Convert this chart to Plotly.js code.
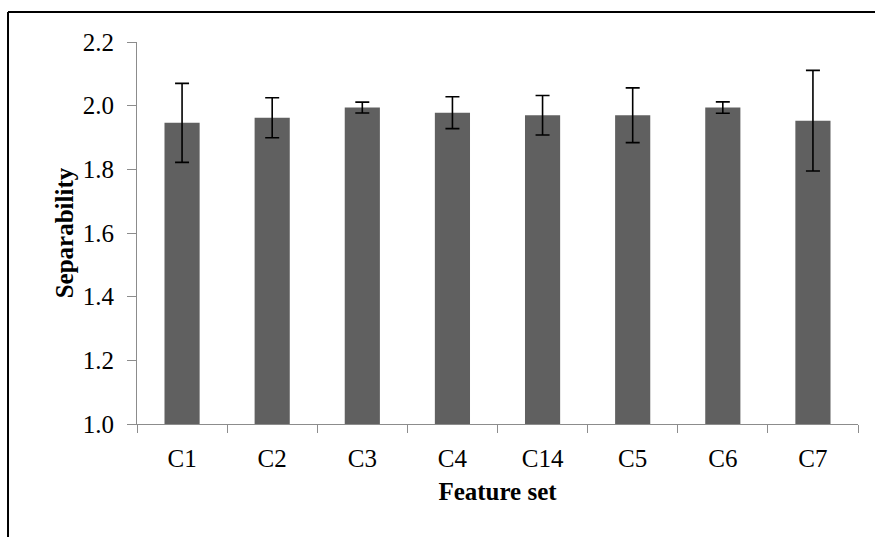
<!DOCTYPE html>
<html>
<head>
<meta charset="utf-8">
<script src="https://cdn.plot.ly/plotly-3.0.1.min.js"></script>
<style>
html,body{margin:0;padding:0;background:#fff;}
#chart{width:875px;height:537px;}
</style>
</head>
<body>
<div id="chart"></div>
<script>
const categories = ["C1", "C2", "C3", "C4", "C14", "C5", "C6", "C7"];
const separability = [1.946, 1.962, 1.994, 1.978, 1.970, 1.970, 1.994, 1.953];
const errors = [0.124, 0.063, 0.017, 0.050, 0.062, 0.086, 0.018, 0.158];

const serif = "Liberation Serif, Times New Roman, serif";

const trace = {
  type: "bar",
  x: categories,
  y: separability,
  width: 0.39,
  marker: {color: "#606060", line: {width: 0}},
  error_y: {type: "data", array: errors, visible: true, color: "#000", thickness: 1.6, width: 7},
  hoverinfo: "skip"
};

const layout = {
  width: 875, height: 537,
  margin: {l: 137, r: 17, t: 42, b: 112.5, pad: 0},
  paper_bgcolor: "#fff",
  plot_bgcolor: "#fff",
  showlegend: false,
  bargap: 0.61,
  font: {family: serif, color: "#000", size: 25},
  xaxis: {
    type: "category",
    showline: true, linecolor: "#8c8c8c", linewidth: 1,
    ticks: "outside", tickson: "boundaries", ticklen: 8, tickcolor: "#8c8c8c", tickwidth: 1,
    ticklabelstandoff: 12,
    showgrid: false, zeroline: false,
    tickfont: {family: serif, size: 25, color: "#000"},
    title: {text: "<b>Feature set</b>", font: {family: serif, size: 25, color: "#000"}, standoff: 11}
  },
  yaxis: {
    range: [1.0, 2.2], dtick: 0.2, tick0: 1.0, tickformat: ".1f",
    showline: true, linecolor: "#8c8c8c", linewidth: 1,
    ticks: "outside", ticklen: 9, tickcolor: "#8c8c8c", tickwidth: 1,
    ticklabelstandoff: 8,
    showgrid: false, zeroline: false,
    tickfont: {family: serif, size: 25, color: "#000"},
    title: {text: "<b>Separability</b>", font: {family: serif, size: 25, color: "#000"}, standoff: 2}
  },
  shapes: [
    {type: "line", xref: "paper", yref: "paper", x0: -0.1789, x1: 1.2, y0: 1.0784, y1: 1.0784, line: {color: "#000", width: 2}},
    {type: "line", xref: "paper", yref: "paper", x0: -0.1789, x1: -0.1789, y0: 1.0784, y1: -0.5, line: {color: "#000", width: 2}}
  ]
};

Plotly.newPlot("chart", [trace], layout, {displayModeBar: false, staticPlot: true});
</script>
</body>
</html>
